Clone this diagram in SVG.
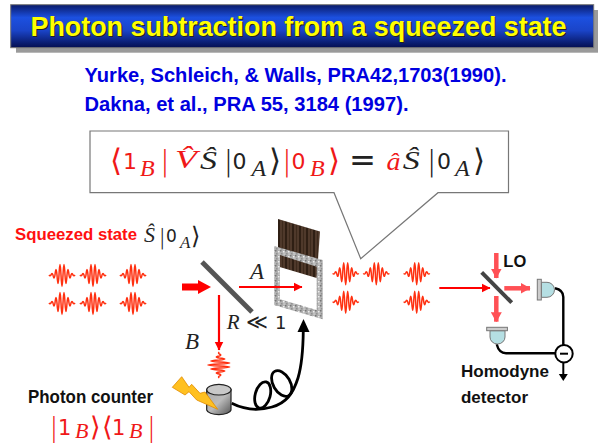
<svg xmlns="http://www.w3.org/2000/svg" width="600" height="445" viewBox="0 0 600 445">
<style>
.sans{font-family:"Liberation Sans",Arial,sans-serif;font-weight:bold}
.m{font-family:"Liberation Serif","DejaVu Serif",serif;font-style:italic}
.d{font-family:"DejaVu Sans",sans-serif;font-style:normal;font-weight:400}
.l{font-family:"DejaVu Sans",sans-serif;font-style:normal;font-weight:200}
.r{fill:#f01818}.k{fill:#222}
.wave{fill:none;stroke:#ff3010;stroke-width:1.5}
.red{stroke:#f00;stroke-width:2.2;fill:none}
.pink{stroke:#ff5055;stroke-width:4.5;fill:none}
.wire{stroke:#000;stroke-width:2.4;fill:none}
.det{fill:#b5dfe3;stroke:#777;stroke-width:1}
</style>
<defs>
<linearGradient id="bar" x1="0" y1="0" x2="0" y2="1"><stop offset="0" stop-color="#0a1a68"/><stop offset=".3" stop-color="#1c50e0"/><stop offset=".6" stop-color="#1a44c8"/><stop offset="1" stop-color="#040e50"/></linearGradient>
<linearGradient id="cyl" x1="0" y1="0" x2="1" y2="1"><stop offset="0" stop-color="#aaa"/><stop offset=".5" stop-color="#bbb"/><stop offset="1" stop-color="#555"/></linearGradient>
<pattern id="wood" width="7" height="10" patternUnits="userSpaceOnUse"><rect width="7" height="10" fill="#3d2a1c"/><path d="M1 0V10M4 0V10" stroke="#6a5040" stroke-width=".8"/><path d="M6 0V10" stroke="#21140c" stroke-width="1"/></pattern>
<pattern id="granite" width="5" height="5" patternUnits="userSpaceOnUse"><rect width="5" height="5" fill="#b0b0b0"/><rect x="0" y="0" width="1.500" height="1.500" fill="#777"/><rect x="3" y="1" width="1.500" height="1.500" fill="#eee"/><rect x="1" y="3" width="1.500" height="1.500" fill="#909090"/><rect x="3.500" y="3.500" width="1.200" height="1.200" fill="#ddd"/></pattern>
<path id="pk" class="wave" d="M-13 0Q-12 1.500-11 0Q-10-3-9 0Q-8 6-7 0Q-6-11-5 0Q-4 17-3 0Q-2-21-1 0Q0 23 1 0Q2-21 3 0Q4 17 5 0Q6-11 7 0Q8 6 9 0Q10-3 11 0Q12 1.500 13 0"/>
<marker id="ar" markerUnits="userSpaceOnUse" markerWidth="9" markerHeight="10" refX="8.500" refY="5" orient="auto"><path d="M0 .5L9 5L0 9.500z" fill="#f00"/></marker>
<marker id="ap" markerUnits="userSpaceOnUse" markerWidth="10" markerHeight="11" refX="9.500" refY="5.500" orient="auto"><path d="M0 0L10 5.500L0 11z" fill="#ff5055"/></marker>
</defs>
<g id="title"><rect x="16" y="10" width="582" height="42.700" fill="#9a9a9a"/><rect x="10.700" y="4.700" width="583" height="43" fill="url(#bar)" stroke="#777"/>
<text class="sans" x="31.700" y="37.300" font-size="27" fill="#222" textLength="536" lengthAdjust="spacingAndGlyphs">Photon subtraction from a squeezed state</text>
<text class="sans" x="30.500" y="36" font-size="27" fill="#ff0" textLength="536" lengthAdjust="spacingAndGlyphs">Photon subtraction from a squeezed state</text></g>
<g id="references" class="sans" fill="#0000e0" font-size="20.500"><text x="84.500" y="81.700" textLength="422" lengthAdjust="spacingAndGlyphs">Yurke, Schleich, &amp; Walls, PRA42,1703(1990).</text><text x="84.500" y="111" textLength="324" lengthAdjust="spacingAndGlyphs">Dakna, et al., PRA 55, 3184 (1997).</text></g>
<g id="callout"><path d="M90 131H508.500V192.700H438L360.700 258.700L334 192.700H90z" fill="#fff" stroke="#777" stroke-width="1.200"/>
<g class="m" font-size="26">
<text class="l r" x="110" y="171" font-size="31">⟨</text><text class="d r" x="123" y="169.300" font-size="22">1</text><text class="r" x="140" y="175.700" font-size="24">B</text><text class="l r" x="160" y="171" font-size="29">|</text><text class="r" x="175" y="168" textLength="22" lengthAdjust="spacingAndGlyphs">V̂</text><text class="k" x="200" y="169" textLength="17" lengthAdjust="spacingAndGlyphs">Ŝ</text><text class="l k" x="223.500" y="171" font-size="29">|</text><text class="d k" x="232.500" y="169.300" font-size="22">0</text><text class="k" x="251.500" y="175.700" font-size="24">A</text><text class="l k" x="269" y="171" font-size="31">⟩</text><text class="l r" x="282" y="171" font-size="29">|</text><text class="d r" x="291.500" y="169.300" font-size="22">0</text><text class="r" x="310" y="175.700" font-size="24">B</text><text class="l r" x="327.500" y="171" font-size="31">⟩</text><text class="d k" x="349" y="171" font-size="32" textLength="27" lengthAdjust="spacingAndGlyphs">=</text><text class="r" x="386.500" y="169.500" textLength="14" lengthAdjust="spacingAndGlyphs">â</text><text class="k" x="402.700" y="169" textLength="17" lengthAdjust="spacingAndGlyphs">Ŝ</text><text class="l k" x="426.800" y="171" font-size="29">|</text><text class="d k" x="437" y="169.300" font-size="22">0</text><text class="k" x="455" y="175.700" font-size="24">A</text><text class="l k" x="472.500" y="171" font-size="31">⟩</text>
</g></g>
<g id="squeezed-label"><text class="sans" x="15" y="240" font-size="16.500" fill="#ff1010" textLength="122" lengthAdjust="spacingAndGlyphs">Squeezed state</text>
<g class="m k"><text x="144" y="242" font-size="22">Ŝ</text><text class="l" x="158.500" y="244" font-size="22">|</text><text class="d" x="166" y="242" font-size="17">0</text><text x="180" y="248" font-size="17">A</text><text class="l" x="191" y="244" font-size="24">⟩</text></g></g>
<g id="input-pulses"><use href="#pk" x="62" y="275"/><use href="#pk" x="93" y="275"/><use href="#pk" x="133" y="275"/><use href="#pk" x="62" y="303"/><use href="#pk" x="93" y="303"/><use href="#pk" x="133" y="303"/></g>
<g id="output-pulses"><use href="#pk" x="345.700" y="273.300"/><use href="#pk" x="376.300" y="273.300"/><use href="#pk" x="416.700" y="273.300"/><use href="#pk" x="345.700" y="301.700"/><use href="#pk" x="416.700" y="301.700"/></g>
<g id="beamsplitter"><path d="M202 262L252 312" stroke="#555" stroke-width="5"/></g>
<g id="mirror"><path d="M278 219L320 231.500L316.700 278L278 266.500z" fill="url(#wood)"/><path fill-rule="evenodd" d="M274 246L322.700 260V319.300L274 305zM280 255V299.300L316.700 310V266.700z" fill="url(#granite)"/></g>
<g id="labels" class="m k"><text x="250" y="279" font-size="23">A</text><text x="185" y="349" font-size="23">B</text><text x="226.700" y="329" font-size="21">R</text><text class="l" x="246" y="329" font-size="21">≪</text><text class="d" x="275" y="329" font-size="18">1</text></g>
<g id="probe-pulse" transform="translate(219.300 365) rotate(90)"><use href="#pk"/></g>
<g id="connectors">
<path d="M182 287H200" stroke="#f00" stroke-width="7"/><path d="M198 280L211 287L198 294z" fill="#f00"/>
<path class="red" d="M239 287H302" marker-end="url(#ar)"/>
<path class="red" d="M219 295V350" marker-end="url(#ar)"/>
<path class="red" d="M439.300 288H490" marker-end="url(#ar)"/>
<path class="pink" d="M496.300 253V278" marker-end="url(#ap)"/>
<path class="pink" d="M504.300 288.300H530" marker-end="url(#ap)"/>
<path class="pink" d="M496.300 296V321.700" marker-end="url(#ap)"/>
<path d="M231.700 403.300C243 409 258 411 272 407C286 403 293 394 298 378C301 368 303 358 303.300 330" fill="none" stroke="#000" stroke-width="2.800"/>
<ellipse cx="262.700" cy="395" rx="7.500" ry="13.500" transform="rotate(15 262.700 395)" fill="none" stroke="#000" stroke-width="2.800"/>
<ellipse cx="281.700" cy="383.500" rx="8.500" ry="14" transform="rotate(-30 281.700 383.500)" fill="none" stroke="#000" stroke-width="2.800"/>
<path d="M303.500 319L297.500 332H309.500z" fill="#000"/>
<path class="wire" d="M555 288.300Q563.300 290 563.300 297V345"/><path class="wire" d="M496.700 344.300Q499 353.300 506 353.300H555"/>
<path d="M563.300 362V376" stroke="#000" stroke-width="2"/><path d="M558.800 374H567.800L563.300 381z" fill="#000"/>
</g>
<g id="counter"><path d="M206.700 389.700V410A12.200 5 0 0 0 231 410V389.700z" fill="url(#cyl)" stroke="#222" stroke-width="1.200"/><ellipse cx="218.900" cy="389.700" rx="12.200" ry="5.300" fill="#c8c8c8" stroke="#222" stroke-width="1.200"/>
<path d="M172.300 387.300L181.700 376.700L189 387.300L191.700 384.300L200 393.300L205 392L217.700 409.300L196.700 400L189 391.700L185 395z" fill="#ffc020" stroke="#e08a00" stroke-width=".8"/>
<text class="sans" x="28" y="403" font-size="17.500" fill="#111" textLength="125" lengthAdjust="spacingAndGlyphs">Photon counter</text>
<g class="m r"><text class="l" x="49.500" y="436" font-size="26">|</text><text class="d" x="58" y="435" font-size="21">1</text><text x="75" y="438" font-size="22">B</text><text class="l" x="90" y="436" font-size="27">⟩</text><text class="l" x="102" y="436" font-size="27">⟨</text><text class="d" x="112" y="435" font-size="21">1</text><text x="129" y="438" font-size="22">B</text><text class="l" x="147" y="436" font-size="26">|</text></g></g>
<g id="lo-beamsplitter"><path d="M481.700 272.300L511.700 302.700" stroke="#444" stroke-width="4"/><text class="sans" x="503.300" y="267.300" font-size="16.500" fill="#111">LO</text></g>
<g id="detector-right"><path class="det" d="M541.300 282.300H547A7.500 7.500 0 0 1 547 297.300H541.300z"/><rect x="537.300" y="279.300" width="4" height="20.700" fill="#ccc" stroke="#777"/></g>
<g id="detector-bottom"><path class="det" d="M490 330.700H505V337A7.500 7 0 0 1 490 337z"/><rect x="486.700" y="327.300" width="20.700" height="3.400" fill="#ccc" stroke="#777"/></g>
<g id="subtractor"><circle cx="564" cy="353.700" r="8.700" fill="#fff" stroke="#000" stroke-width="2"/><path d="M560 353.700H568" stroke="#000" stroke-width="2"/></g>
<g id="homodyne-label" class="sans" font-size="17" fill="#111"><text x="461" y="376.700" textLength="88" lengthAdjust="spacingAndGlyphs">Homodyne</text><text x="461" y="402.700" textLength="67" lengthAdjust="spacingAndGlyphs">detector</text></g>
</svg>
